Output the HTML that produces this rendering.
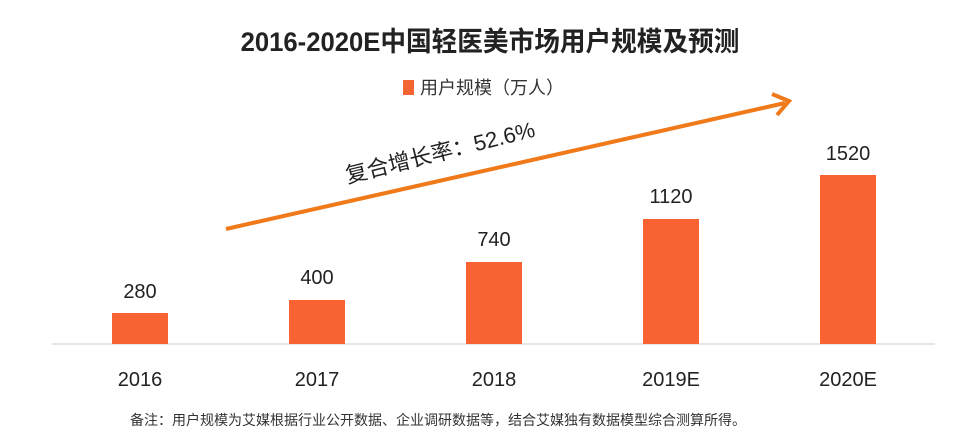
<!DOCTYPE html>
<html><head><meta charset="utf-8"><style>
body{margin:0;width:976px;height:437px;background:#fff;overflow:hidden;font-family:"Liberation Sans","Noto Sans CJK SC",sans-serif;}
</style></head><body>
<svg width="976" height="437" viewBox="0 0 976 437" xmlns="http://www.w3.org/2000/svg" font-family="Liberation Sans, Noto Sans CJK SC, sans-serif">
<text x="490" y="51" text-anchor="middle" font-size="27" font-weight="bold" fill="#222" transform="translate(490 0) scale(0.95 1) translate(-490 0)">2016-2020E中国轻医美市场用户规模及预测</text>
<rect x="403" y="80" width="11" height="15" fill="#f26533"/>
<text x="420" y="94" font-size="18" fill="#333">用户规模（万人）</text>
<line x1="52" y1="344" x2="935" y2="344" stroke="#ddd" stroke-width="1.5"/>
<g fill="#f96233">
<rect x="112" y="313" width="56" height="31"/>
<rect x="289" y="300" width="56" height="44"/>
<rect x="466" y="262" width="56" height="82"/>
<rect x="643" y="219" width="56" height="125"/>
<rect x="820" y="175" width="56" height="169"/>
</g>
<g font-size="20" fill="#222" text-anchor="middle">
<text x="140" y="298">280</text>
<text x="317" y="284">400</text>
<text x="494" y="246">740</text>
<text x="671" y="203">1120</text>
<text x="848" y="160">1520</text>
<text x="140" y="386">2016</text>
<text x="317" y="386">2017</text>
<text x="494" y="386">2018</text>
<text x="671" y="386">2019E</text>
<text x="848" y="386">2020E</text>
</g>
<line x1="226" y1="229" x2="785" y2="103" stroke="#f07a1a" stroke-width="4"/>
<polyline points="772,94 789,101 777,115" fill="none" stroke="#f07a1a" stroke-width="4"/>
<text x="440" y="160" text-anchor="middle" font-size="22" fill="#222" transform="rotate(-14 440 152)">复合增长率：52.6%</text>
<text x="130" y="425" font-size="14" fill="#333">备注：用户规模为艾媒根据行业公开数据、企业调研数据等，结合艾媒独有数据模型综合测算所得。</text>
</svg>
</body></html>
